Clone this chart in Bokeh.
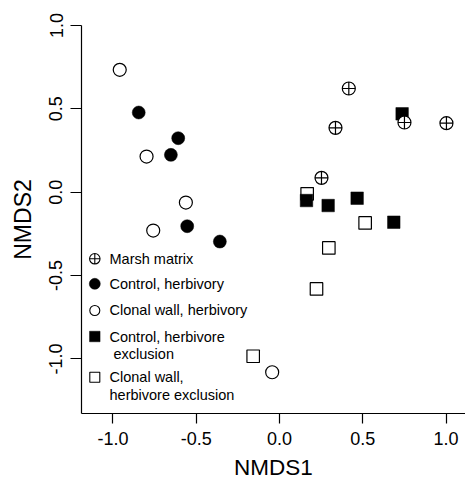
from bokeh.plotting import figure
from bokeh.models import FixedTicker, ColumnDataSource
from bokeh.core.properties import value
from bokeh.embed import file_html
from bokeh.resources import INLINE

# ---- data ----
marsh_x = [0.416, 0.336, 0.750, 1.002, 0.252]
marsh_y = [0.622, 0.386, 0.418, 0.414, 0.086]
ctrl_herb_x = [-0.845, -0.608, -0.652, -0.554, -0.358]
ctrl_herb_y = [0.478, 0.324, 0.224, -0.204, -0.296]
wall_herb_x = [-0.959, -0.798, -0.562, -0.758, -0.044]
wall_herb_y = [0.734, 0.214, -0.062, -0.230, -1.080]
ctrl_excl_x = [0.736, 0.162, 0.292, 0.466, 0.686]
ctrl_excl_y = [0.470, -0.050, -0.080, -0.036, -0.180]
wall_excl_x = [0.166, 0.514, 0.296, 0.222, -0.158]
wall_excl_y = [-0.010, -0.184, -0.334, -0.580, -0.984]

x_ticks = [-1.0, -0.5, 0.0, 0.5, 1.0]
x_tick_labels = ["-1.0", "-0.5", "0.0", "0.5", "1.0"]
y_ticks = [-1.0, -0.5, 0.0, 0.5, 1.0]
y_tick_labels = ["-1.0", "-0.5", "0.0", "0.5", "1.0"]

legend_labels = ["Marsh matrix", "Control, herbivory", "Clonal wall, herbivory",
                 "Control, herbivore", "exclusion", "Clonal wall,", "herbivore exclusion"]
x_title = "NMDS1"
y_title = "NMDS2"

FONT = "Liberation Sans"

# ---- layout ----
W, H = 465, 484
BL, BR, BT, BB = 81, 0, 25, 71
X0, X1 = -1.1885, 1.1164
Y0, Y1 = -1.3275, 1.0
FW, FH = W - BL - BR, H - BT - BB

def dx(px):  # canvas x pixel -> data x
    return X0 + (px - BL) / FW * (X1 - X0)

def dy(py):  # canvas y pixel -> data y
    return Y1 - (py - BT) / FH * (Y1 - Y0)

p = figure(width=W, height=H, output_backend="svg", toolbar_location=None,
           x_range=(X0, X1), y_range=(Y0, Y1),
           min_border_left=BL, min_border_right=BR, min_border_top=BT, min_border_bottom=BB)
p.outline_line_color = None
p.grid.visible = False
p.background_fill_color = "white"
p.border_fill_color = "white"

for ax, ticks, labels, tout, stand in ((p.xaxis[0], x_ticks, x_tick_labels, 10, 8),
                                       (p.yaxis[0], y_ticks, y_tick_labels, 11, 8)):
    ax.ticker = FixedTicker(ticks=ticks)
    ax.major_label_overrides = {t: l for t, l in zip(ticks, labels)}
    ax.major_tick_out = tout
    ax.major_tick_in = 0
    ax.minor_tick_out = 0
    ax.minor_tick_in = 0
    ax.major_label_standoff = stand
    ax.major_label_text_font = FONT
    ax.major_label_text_font_size = "18px"
    ax.major_label_text_color = "black"
    ax.axis_line_color = "black"
    ax.axis_line_width = 1.2
    ax.major_tick_line_color = "black"
    ax.major_tick_line_width = 1.2
    ax.axis_label_text_font = FONT
    ax.axis_label_text_font_style = "normal"
    ax.axis_label_text_color = "black"
p.yaxis[0].major_label_orientation = "vertical"
p.xaxis[0].axis_label = x_title
p.xaxis[0].axis_label_text_font_size = "22.5px"
p.xaxis[0].axis_label_standoff = 7
p.yaxis[0].axis_label = y_title
p.yaxis[0].axis_label_text_font_size = "23px"
p.yaxis[0].axis_label_standoff = 11

MS = 13
LW = 1.2
# open squares
p.scatter(wall_excl_x, wall_excl_y, marker="square", size=12.5, fill_color="white",
          line_color="black", line_width=LW)
# filled squares
p.scatter(ctrl_excl_x, ctrl_excl_y, marker="square", size=12.5, fill_color="black",
          line_color="black", line_width=0.5)
# marsh matrix
p.scatter(marsh_x, marsh_y, marker="circle_cross", size=MS, fill_color="white",
          line_color="black", line_width=LW)
# open circles
p.scatter(wall_herb_x, wall_herb_y, marker="circle", size=MS, fill_color="white",
          line_color="black", line_width=LW)
# filled circles
p.scatter(ctrl_herb_x, ctrl_herb_y, marker="circle", size=MS, fill_color="black",
          line_color="black", line_width=0.5)

# ---- legend (drawn by hand) ----
gx = dx(94.3)
p.scatter([gx], [dy(258.3)], marker="circle_cross", size=10.5, fill_color="white",
          line_color="black", line_width=1.1)
p.scatter([gx], [dy(283.3)], marker="circle", size=11, fill_color="black",
          line_color="black", line_width=0.5)
p.scatter([gx], [dy(310)], marker="circle", size=10, fill_color="white",
          line_color="black", line_width=1.1)
p.scatter([gx], [dy(336)], marker="square", size=10.5, fill_color="black",
          line_color="black", line_width=0.5)
p.scatter([gx], [dy(376.7)], marker="square", size=10, fill_color="white",
          line_color="black", line_width=1.1)

tx = [dx(109), dx(109), dx(109), dx(109), dx(113), dx(109), dx(109)]
ty = [dy(258.3), dy(283.3), dy(309), dy(336), dy(353), dy(376.7), dy(394.3)]
src = ColumnDataSource(dict(x=tx, y=ty, t=legend_labels))
p.text(x="x", y="y", text="t", source=src, text_font=value(FONT),
       text_font_size=value("14.5px"), text_align="left", text_baseline="middle",
       text_color="black")

open("out.html", "w").write(file_html(p, INLINE))
